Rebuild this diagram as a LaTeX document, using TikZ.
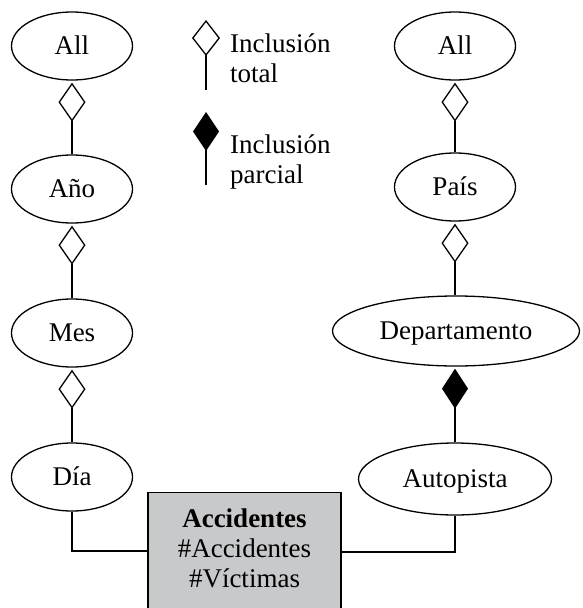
\documentclass[tikz,border=0pt]{standalone}
\usepackage{fontspec}
\setmainfont{Liberation Serif}
\usetikzlibrary{arrows.meta,shapes.geometric}
\definecolor{boxgray}{RGB}{200,201,203}
\tikzset{
  lvl/.style={ellipse, draw, line width=1.3pt, inner sep=0pt, minimum width=121pt, minimum height=68pt, text height=17pt, text depth=0pt},
  txt/.style={font=\fontsize{27}{30}\selectfont},
  conn/.style={line width=1.3pt},
  tot/.style={conn, -{Diamond[open, length=39pt, width=27pt]}, shorten >=2pt},
  par/.style={conn, -{Diamond[length=40pt, width=26pt]}, shorten >=2pt},
}
\begin{document}
\begin{tikzpicture}[x=1pt, y=-1pt, every node/.append style={txt}]
\useasboundingbox (0,0) rectangle (582,608);
% left hierarchy
\node[lvl] (all1) at (72,46) {All};
\node[lvl] (ano) at (72,189) {Año};
\node[lvl] (mes) at (72,333) {Mes};
\node[lvl] (dia) at (72,477) {Día};
% right hierarchy
\node[lvl] (all2) at (455,46) {All};
\node[lvl] (pais) at (455,187) {País};
\node[lvl, minimum width=247pt, minimum height=70pt] (dep) at (456,331) {Departamento};
\node[lvl, minimum width=193pt, minimum height=72pt] (aut) at (455,479) {Autopista};
% fact box
\node[draw, line width=1.3pt, fill=boxgray, minimum width=193pt, minimum height=150pt, anchor=north] (acc) at (244.5,492) {};
\node[align=center, inner sep=0pt] (acctxt) at (244.5,548) {\textbf{Accidentes}\\\#Accidentes\\\#Víctimas};
% connectors
\draw[tot] (ano.north) -- (all1.south);
\draw[tot] (mes.north) -- (ano.south);
\draw[tot] (dia.north) -- (mes.south);
\draw[tot] (pais.north) -- (all2.south);
\draw[tot] (dep.north -| pais.south) -- (pais.south);
\draw[par] (aut.north) -- (aut.north |- dep.south);
\draw[conn] (dia.south) |- (acc.west |- 0,551);
\draw[conn] (aut.south) |- (acc.east |- 0,552);
% legend
\coordinate (l1b) at (206,90);
\coordinate (l1t) at (206,20);
\coordinate (l2b) at (206,185);
\coordinate (l2t) at (206,112);
\draw[conn, -{Diamond[open, length=36pt, width=28pt]}] (l1b) -- (l1t);
\draw[conn, -{Diamond[length=39pt, width=26pt]}] (l2b) -- (l2t);
\node[align=left, anchor=base west, inner sep=0pt] (leg1) at (230,82) {Inclusión\\total};
\node[align=left, anchor=base west, inner sep=0pt] (leg2) at (230,183) {Inclusión\\parcial};
\end{tikzpicture}
\end{document}
